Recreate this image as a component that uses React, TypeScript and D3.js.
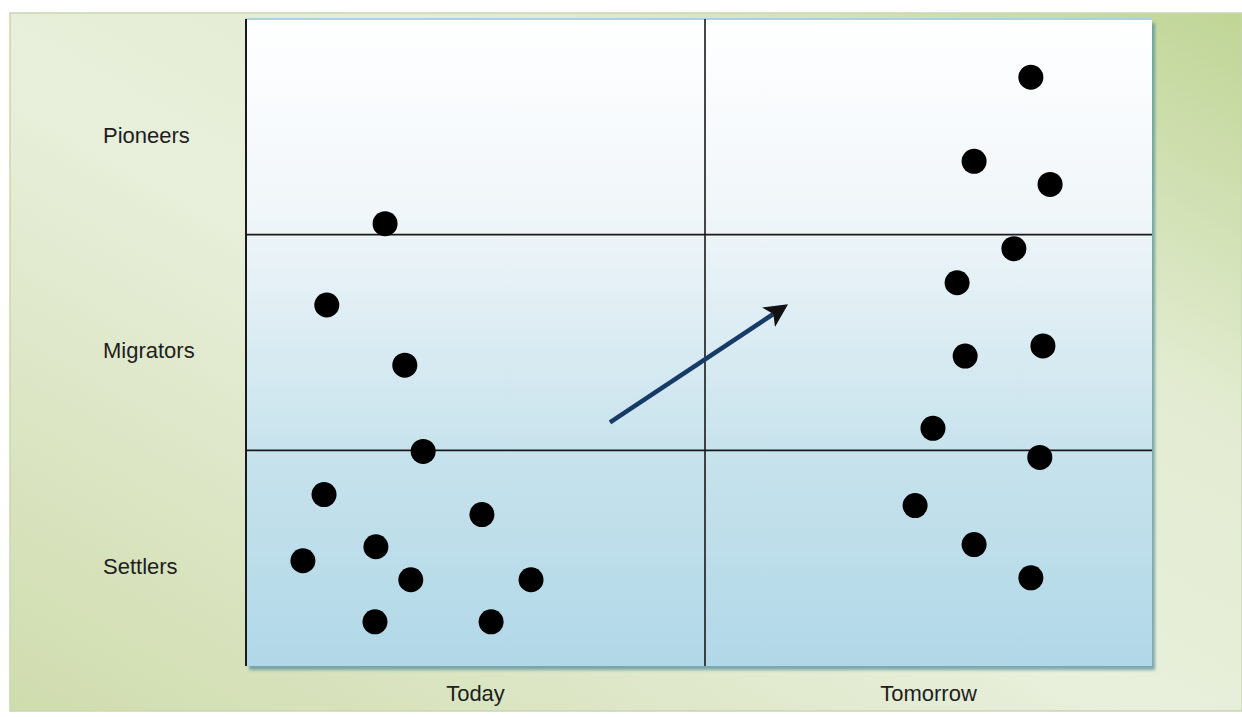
import React from 'react';
import * as d3 from 'd3';

// Segments and periods
const rowLabels = ['Settlers', 'Migrators', 'Pioneers'];
const columnLabels = ['Today', 'Tomorrow'];

// Dots: x in [0,2] (0–1 Today, 1–2 Tomorrow), y in [0,3] (one unit per segment)
const todayX = [0.303, 0.176, 0.346, 0.386, 0.17, 0.514, 0.124, 0.283, 0.359, 0.621, 0.281, 0.534];
const todayY = [2.051, 1.674, 1.395, 0.995, 0.795, 0.702, 0.488, 0.553, 0.4, 0.4, 0.205, 0.205];
const tomorrowX = [1.729, 1.602, 1.772, 1.691, 1.564, 1.582, 1.756, 1.51, 1.749, 1.47, 1.602, 1.729];
const tomorrowY = [2.73, 2.34, 2.233, 1.935, 1.777, 1.437, 1.484, 1.102, 0.967, 0.744, 0.563, 0.409];

// Trend arrow, start and end in data units
const arrowX = [0.793, 1.177];
const arrowY = [1.13, 1.665];

const W = 1242;
const H = 717;

export default function App() {
  const plot = { left: 246, right: 1152, top: 19, bottom: 666 };

  const x = d3.scaleLinear().domain([0, 1, 2]).range([plot.left, 705, plot.right]);
  const y = d3.scaleLinear().domain([0, 3]).range([plot.bottom, plot.top]);

  const dots = [
    ...todayX.map((v, i) => ({ x: v, y: todayY[i] })),
    ...tomorrowX.map((v, i) => ({ x: v, y: tomorrowY[i] })),
  ];

  const font = 'Arial, "Liberation Sans", sans-serif';

  return (
    <svg
      width={W}
      height={H}
      style={{ position: 'absolute', left: 0, top: 0, display: 'block' }}
      fontFamily={font}
    >
      <defs>
        <linearGradient id="outerBg" x1="0" y1="1" x2="1" y2="0">
          <stop offset="0" stopColor="#cfdcad" />
          <stop offset="0.45" stopColor="#e8efdb" />
          <stop offset="0.7" stopColor="#e3ecd2" />
          <stop offset="1" stopColor="#bfd595" />
        </linearGradient>
        <linearGradient id="plotBg" x1="0" y1="0" x2="0" y2="1">
          <stop offset="0" stopColor="#ffffff" />
          <stop offset="0.3" stopColor="#f0f6f9" />
          <stop offset="0.68" stopColor="#c6e2ec" />
          <stop offset="1" stopColor="#b1d8e8" />
        </linearGradient>
        <filter id="shadow" x="-5%" y="-5%" width="110%" height="110%">
          <feDropShadow dx="3" dy="4" stdDeviation="1.5" floodColor="#4f8a96" floodOpacity="0.7" />
        </filter>
        <marker id="arrowHead" viewBox="0 0 10 10" refX="8" refY="5" markerWidth="5.2" markerHeight="5.2" orient="auto">
          <path d="M0,0 L10,5 L0,10 L2.5,5 Z" fill="#111" />
        </marker>
      </defs>

      <rect width={W} height={H} fill="#ffffff" />
      <rect x={10} y={13} width={W - 10} height={698} fill="url(#outerBg)" stroke="#c9d6b2" strokeWidth={1.5} />

      {/* plot area */}
      <rect
        x={plot.left}
        y={plot.top}
        width={plot.right - plot.left}
        height={plot.bottom - plot.top}
        fill="url(#plotBg)"
        filter="url(#shadow)"
      />
      <line x1={plot.left} x2={plot.right} y1={plot.top} y2={plot.top} stroke="#a9d2de" strokeWidth={2} />

      {/* grid */}
      {[1, 2].map((v) => (
        <line key={`h${v}`} x1={plot.left} x2={plot.right} y1={y(v)} y2={y(v)} stroke="#1a1a1a" strokeWidth={1.6} />
      ))}
      <line x1={x(0)} x2={x(0)} y1={plot.top} y2={plot.bottom} stroke="#1a1a1a" strokeWidth={2} />
      <line x1={x(1)} x2={x(1)} y1={plot.top} y2={plot.bottom} stroke="#1a1a1a" strokeWidth={1.6} />

      {/* row labels */}
      {rowLabels.map((t, i) => (
        <text key={t} x={103} y={y(i + 0.5) + 8} dy="0.35em" fontSize={22} fill="#1e1e1e">
          {t}
        </text>
      ))}

      {/* column labels */}
      {columnLabels.map((t, i) => (
        <text key={t} x={(x(i) + x(i + 1)) / 2} y={693} dy="0.35em" textAnchor="middle" fontSize={22} fill="#1e1e1e">
          {t}
        </text>
      ))}

      {/* dots */}
      {dots.map((d, i) => (
        <circle key={i} cx={x(d.x)} cy={y(d.y)} r={12.5} fill="#000" />
      ))}

      {/* arrow */}
      <line
        x1={x(arrowX[0])}
        y1={y(arrowY[0])}
        x2={x(arrowX[1])}
        y2={y(arrowY[1])}
        stroke="#173a66"
        strokeWidth={4.5}
        markerEnd="url(#arrowHead)"
      />
    </svg>
  );
}
